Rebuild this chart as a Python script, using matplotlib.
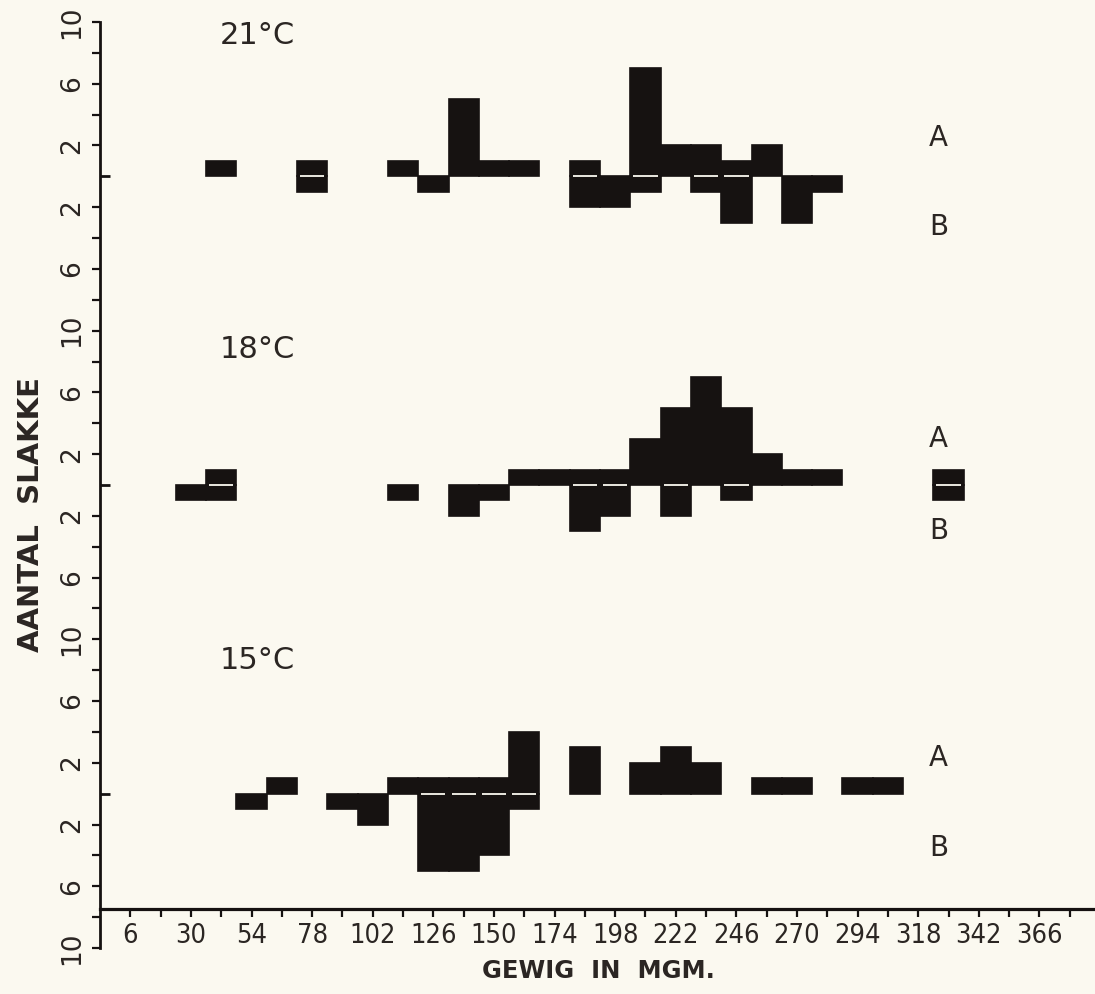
import numpy as np
import matplotlib
matplotlib.use('Agg')
import matplotlib.pyplot as plt
from matplotlib.ticker import FixedLocator, NullFormatter

# %% data: counts per 12 mg weight class, A above and B below the baseline
temps = ['21°C', '18°C', '15°C']

centers_21 = [42, 78, 114, 126, 138, 150, 162, 186, 198, 210, 222, 234, 246, 258, 270, 282]
a_21 = [1, 1, 1, 0, 5, 1, 1, 1, 0, 7, 2, 2, 1, 2, 0, 0]
b_21 = [0, 1, 0, 1, 0, 0, 0, 2, 2, 1, 0, 1, 3, 0, 3, 1]

centers_18 = [30, 42, 114, 138, 150, 162, 174, 186, 198, 210, 222, 234, 246, 258, 270, 282, 330]
a_18 = [0, 1, 0, 0, 0, 1, 1, 1, 1, 3, 5, 7, 5, 2, 1, 1, 1]
b_18 = [1, 1, 1, 2, 1, 0, 0, 3, 2, 0, 2, 0, 1, 0, 0, 0, 1]

centers_15 = [54, 66, 90, 102, 114, 126, 138, 150, 162, 186, 210, 222, 234, 258, 270, 294, 306]
a_15 = [0, 1, 0, 0, 1, 1, 1, 1, 4, 3, 2, 3, 2, 1, 1, 1, 1]
b_15 = [1, 0, 1, 2, 0, 5, 5, 4, 1, 0, 0, 0, 0, 0, 0, 0, 0]

x_labels = [6, 30, 54, 78, 102, 126, 150, 174, 198, 222, 246, 270, 294, 318, 342, 366]

# %% styling
bg = '#fbf9f0'
ink = '#161211'
txt = '#2b2623'
bin_w = 12
baselines = [40, 20, 0]
temp_y = [8.6, 8.2, 8.1]
a_y = [2.5, 3.0, 2.3]
b_y = [-3.3, -3.0, -3.5]

fig = plt.figure(figsize=(10.95, 9.94), dpi=100, facecolor=bg)
W, H = 1095.0, 994.0
ax = fig.add_axes([100 / W, 46 / H, 995 / W, 926 / H])
ax.set_facecolor(bg)
ax.set_xlim(-6, 388)
ax.set_ylim(-10, 50)

panels = [(centers_21, a_21, b_21), (centers_18, a_18, b_18), (centers_15, a_15, b_15)]
for i, (c, a, b) in enumerate(panels):
    base = baselines[i]
    c = np.array(c, dtype=float)
    a = np.array(a, dtype=float)
    b = np.array(b, dtype=float)
    up = a > 0
    dn = b > 0
    ax.bar(c[up], a[up], width=bin_w, bottom=base, color=ink, edgecolor=ink, linewidth=1.2)
    ax.bar(c[dn], -b[dn], width=bin_w, bottom=base, color=ink, edgecolor=ink, linewidth=1.2)
    both = up & dn
    ax.hlines(np.full(both.sum(), base), c[both] - 4.8, c[both] + 4.8, color=bg, lw=1.3, zorder=3)

    ax.text(41.5, base + temp_y[i], temps[i], fontsize=22, color=txt, ha='left', va='baseline')
    ax.text(326, base + a_y[i], 'A', fontsize=20, color=txt, ha='center', va='center')
    ax.text(326, base + b_y[i], 'B', fontsize=20, color=txt, ha='center', va='center')

# %% axes
for s in ['top', 'right']:
    ax.spines[s].set_visible(False)
ax.spines['left'].set_linewidth(2.0)
ax.spines['left'].set_color(ink)
ax.spines['bottom'].set_linewidth(2.3)
ax.spines['bottom'].set_color(ink)
ax.spines['bottom'].set_position(('data', -7.5))

# y ticks: every 2 counts, labelled 2, 6, 10 away from each baseline
yt = [y for y in range(-10, 51, 2) if y not in baselines]
ylab = []
for y in yt:
    d = abs(((y + 10) % 20) - 10)
    ylab.append(str(d) if d in (2, 6, 10) else '')
ax.set_yticks(yt)
ax.set_yticklabels(ylab, rotation=90, va='center', fontsize=19, color=txt)
ax.yaxis.set_minor_locator(FixedLocator(baselines))
ax.yaxis.set_minor_formatter(NullFormatter())
ax.tick_params(axis='y', which='major', direction='out', length=6, width=1.6, color=ink, pad=5)
ax.tick_params(axis='y', which='minor', direction='in', length=7, width=2.0, color=ink)

ax.set_xticks(x_labels)
ax.set_xticklabels([str(v) for v in x_labels], fontsize=19.5, color=txt)
ax.xaxis.set_minor_locator(FixedLocator(list(range(18, 379, 24))))
ax.tick_params(axis='x', which='both', direction='out', length=6, width=1.6, color=ink, pad=4)
for lab in ax.get_xticklabels():
    lab.set_fontstretch('condensed')

fig.text(598 / W, 1 - 971 / H, 'GEWIG  IN  MGM.', fontsize=17.5, fontweight='bold',
         color=txt, ha='center', va='center')
fig.text(31 / W, 1 - 515 / H, 'AANTAL  SLAKKE', fontsize=21, fontweight='bold',
         color=txt, ha='center', va='center', rotation=90)

fig.savefig('out.png', dpi=100, facecolor=bg)
